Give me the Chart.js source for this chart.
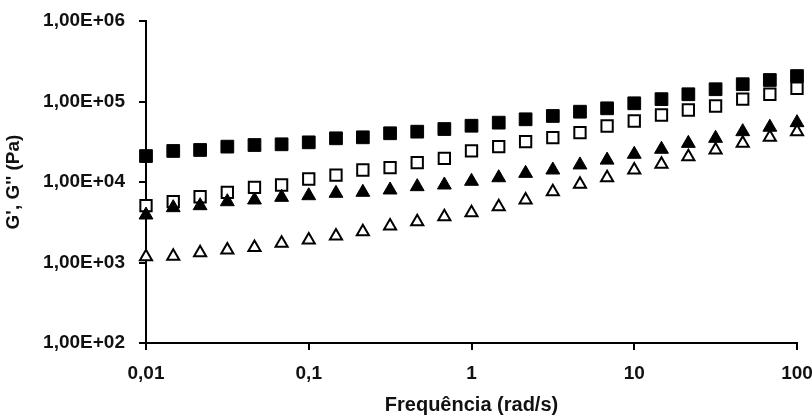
<!DOCTYPE html>
<html>
<head>
<meta charset="utf-8">
<script src="https://cdn.jsdelivr.net/npm/chart.js@4/dist/chart.umd.min.js"></script>
<style>
  body { margin: 0; background: #fff; }
  #box { width: 812px; height: 419px; }
</style>
</head>
<body>
<div id="box"><canvas id="grafico"></canvas></div>
<script>
// Frequências (rad/s), 6 pontos por década
const frequencias = [0.01, 0.0147, 0.0215, 0.0316, 0.0464, 0.0681,
  0.1, 0.147, 0.215, 0.316, 0.464, 0.681,
  1, 1.47, 2.15, 3.16, 4.64, 6.81,
  10, 14.7, 21.5, 31.6, 46.4, 68.1, 100];

// G' e G'' (Pa)
const gLinhaQuadrado = [21000, 24300, 25000, 27500, 28800, 29400, 31100, 34900, 35900, 40300, 42200, 45500,
  50000, 54600, 60100, 66100, 74700, 82300, 95000, 107000, 123000, 142000, 164000, 185000, 207000];
const gDuasQuadrado = [5080, 5690, 6560, 7440, 8590, 9180, 10900, 12200, 14100, 15100, 17400, 19700,
  24300, 27500, 31700, 35500, 41000, 49600, 57200, 68000, 78400, 87900, 107000, 123000, 146000];
const gLinhaTriangulo = [3890, 4800, 5080, 5690, 5980, 6450, 6760, 7240, 7450, 7960, 8750, 9180,
  10200, 11300, 12800, 14100, 16300, 18700, 22100, 25500, 30200, 34900, 42200, 47900, 54600];
const gDuasTriangulo = [1180, 1200, 1320, 1430, 1540, 1730, 1900, 2130, 2410, 2840, 3210, 3710,
  4160, 4930, 5980, 7580, 9360, 11300, 14100, 16600, 20600, 25000, 30200, 35900, 42200];

// Marcas dos eixos
const ticksX = [0.01, 0.1, 1, 10, 100];
const rotulosX = ['0,01', '0,1', '1', '10', '100'];
const ticksY = [100, 1000, 10000, 100000, 1000000];
const rotulosY = ['1,00E+02', '1,00E+03', '1,00E+04', '1,00E+05', '1,00E+06'];

const fonte = "'Liberation Sans', Arial, sans-serif";

function pontos(valores) {
  return frequencias.map((f, i) => ({ x: f, y: valores[i] }));
}

function serie(valores, estilo, cheio, raio, ordem) {
  return {
    data: pontos(valores),
    pointStyle: estilo,
    pointRadius: raio,
    pointBackgroundColor: cheio ? '#000' : '#fff',
    pointBorderColor: '#000',
    pointBorderWidth: cheio ? 1 : 2,
    showLine: false,
    clip: false,
    order: ordem
  };
}

const ctx = document.getElementById('grafico').getContext('2d');
new Chart(ctx, {
  type: 'scatter',
  data: {
    datasets: [
      serie(gLinhaQuadrado, 'rect', true, 9, 4),
      serie(gDuasQuadrado, 'rect', false, 8, 3),
      serie(gLinhaTriangulo, 'triangle', true, 8, 2),
      serie(gDuasTriangulo, 'triangle', false, 7, 1)
    ]
  },
  options: {
    responsive: true,
    maintainAspectRatio: false,
    animation: false,
    layout: { padding: { top: 21, right: 15, left: 0, bottom: 0 } },
    plugins: { legend: { display: false }, tooltip: { enabled: false } },
    scales: {
      x: {
        type: 'logarithmic',
        min: 0.01,
        max: 100,
        afterBuildTicks: s => { s.ticks = ticksX.map(v => ({ value: v })); },
        afterFit: s => { s.height = 76; s.paddingLeft = 0; s.paddingRight = 0; },
        ticks: {
          color: '#111',
          padding: 12,
          maxRotation: 0,
          font: { family: fonte, size: 19, weight: 'bold' },
          callback: (v) => rotulosX[ticksX.indexOf(v)]
        },
        grid: { drawOnChartArea: false, drawTicks: true, tickLength: 7, color: '#000', lineWidth: 2 },
        border: { display: true, color: '#000', width: 2 },
        title: {
          display: true,
          text: 'Frequência (rad/s)',
          color: '#111',
          font: { family: fonte, size: 20, weight: 'bold' },
          padding: { top: 0, bottom: 2 }
        }
      },
      y: {
        type: 'logarithmic',
        min: 100,
        max: 1000000,
        afterBuildTicks: s => { s.ticks = ticksY.map(v => ({ value: v })); },
        afterFit: s => { s.width = 146; s.paddingTop = 0; s.paddingBottom = 0; },
        ticks: {
          color: '#111',
          padding: 14,
          font: { family: fonte, size: 19, weight: 'bold' },
          callback: (v) => rotulosY[ticksY.indexOf(v)]
        },
        grid: { drawOnChartArea: false, drawTicks: true, tickLength: 7, color: '#000', lineWidth: 2 },
        border: { display: true, color: '#000', width: 2 },
        title: {
          display: true,
          text: "G', G'' (Pa)",
          color: '#111',
          font: { family: fonte, size: 19, weight: 'bold' },
          padding: { top: 2, bottom: 0 }
        }
      }
    }
  }
});
</script>
</body>
</html>
